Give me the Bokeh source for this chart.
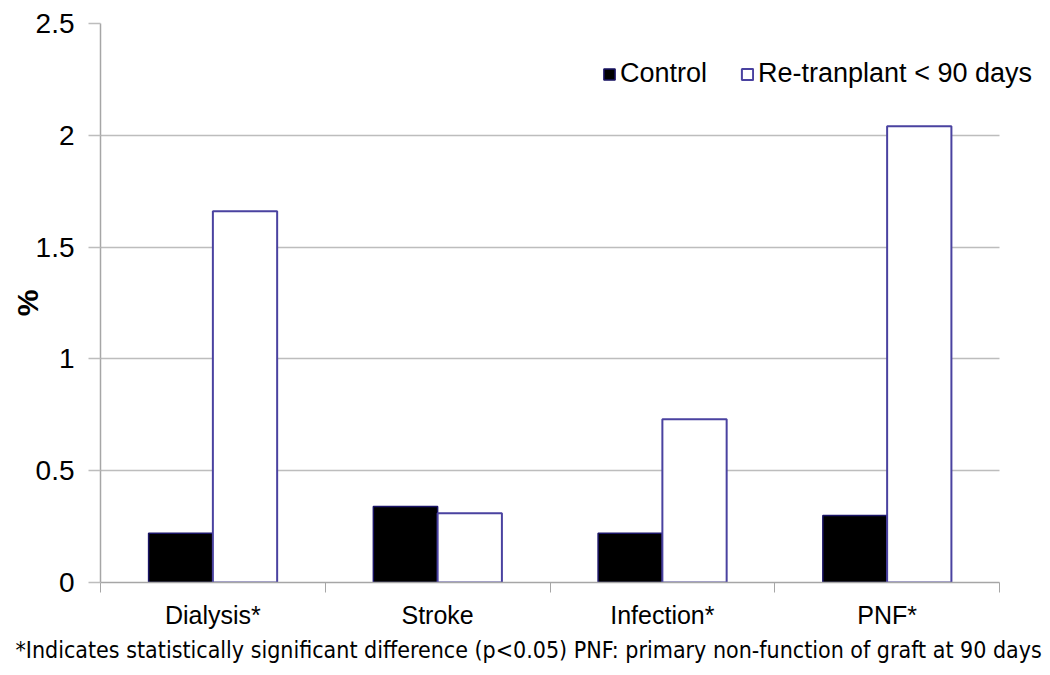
from bokeh.plotting import figure
from bokeh.models import FixedTicker, Title, ColumnDataSource, BoxAnnotation
from bokeh.embed import file_html
from bokeh.resources import INLINE
import numpy as np

categories = ["Dialysis*", "Stroke", "Infection*", "PNF*"]
control = [0.22, 0.34, 0.22, 0.30]
retransplant = [1.66, 0.31, 0.73, 2.04]
series_names = ["Control", "Re-tranplant < 90 days"]
y_ticks = [0, 0.5, 1, 1.5, 2, 2.5]
y_tick_labels = ["0", "0.5", "1", "1.5", "2", "2.5"]
y_label = "%"
footnote = "*Indicates statistically significant difference (p<0.05)  PNF: primary non-function of graft at 90 days"

FONT = "Liberation Sans"
GRID = "#bdbdbd"
EDGE = "#4a42a0"

n = len(categories)
centers = np.arange(n) + 0.5
bar_w = 0.286

# layout: the category area is 899px wide, the frame is widened so the legend can overhang
data_w = 899
frame_w = 945
x_end = n * frame_w / data_w

src = ColumnDataSource(dict(
    xc=centers - bar_w / 2,
    xr=centers + bar_w / 2,
    control=control,
    retransplant=retransplant,
))

p = figure(frame_width=frame_w, frame_height=559,
           x_range=(0, x_end), y_range=(0, 2.5),
           output_backend="svg", toolbar_location=None,
           min_border_left=100, min_border_top=23, min_border_right=0,
           min_border_bottom=4)
p.outline_line_color = None
p.background_fill_color = "white"

p.vbar(x="xc", top="control", width=bar_w, bottom=0, source=src,
       fill_color="black", line_color="#1a1466", line_width=1.5,
       legend_label=series_names[0])
p.vbar(x="xr", top="retransplant", width=bar_w, bottom=0, source=src,
       fill_color="white", line_color=EDGE, line_width=2,
       legend_label=series_names[1])

# x axis
p.xaxis.bounds = (0, n)
p.xaxis.ticker = FixedTicker(ticks=list(centers), minor_ticks=list(range(n + 1)))
p.xaxis.major_label_overrides = {float(c): cat for c, cat in zip(centers, categories)}
p.xaxis.major_tick_line_color = None
p.xaxis.major_tick_out = 0
p.xaxis.major_tick_in = 0
p.xaxis.minor_tick_line_color = "#a6a6a6"
p.xaxis.minor_tick_out = 10
p.xaxis.minor_tick_in = 0
p.xaxis.axis_line_color = "#a6a6a6"
p.xaxis.axis_line_width = 1.5
p.xaxis.major_label_text_font = FONT
p.xaxis.major_label_text_font_size = "25px"
p.xaxis.major_label_text_color = "black"
p.xaxis.major_label_standoff = 8
p.xgrid.grid_line_color = None

# y axis
p.yaxis.ticker = FixedTicker(ticks=y_ticks)
p.yaxis.major_label_overrides = {t: l for t, l in zip(y_ticks, y_tick_labels)}
p.yaxis.major_tick_out = 12
p.yaxis.major_tick_in = 0
p.yaxis.major_tick_line_color = GRID
p.yaxis.major_tick_line_width = 1.5
p.yaxis.minor_tick_line_color = None
p.yaxis.axis_line_color = "#a6a6a6"
p.yaxis.axis_line_width = 1.5
p.yaxis.major_label_text_font = FONT
p.yaxis.major_label_text_font_size = "28px"
p.yaxis.major_label_text_color = "black"
p.yaxis.major_label_standoff = 14
p.yaxis.axis_label = y_label
p.yaxis.axis_label_text_font = FONT
p.yaxis.axis_label_text_font_size = "30px"
p.yaxis.axis_label_text_font_style = "bold"
p.yaxis.axis_label_text_color = "black"
p.yaxis.axis_label_standoff = -11
p.ygrid.ticker = FixedTicker(ticks=y_ticks)
p.ygrid.grid_line_color = GRID
p.ygrid.grid_line_width = 1.5

# hide the grid beyond the last category
p.add_layout(BoxAnnotation(left=n, fill_color="white", fill_alpha=1,
                           line_alpha=0, level="underlay"))

# legend
lg = p.legend[0]
lg.orientation = "horizontal"
lg.location = (502, 493)
lg.border_line_color = None
lg.background_fill_alpha = 0
lg.padding = 0
lg.margin = 0
lg.spacing = 33
lg.glyph_width = 14
lg.glyph_height = 14
lg.label_standoff = 4
lg.label_text_font = FONT
lg.label_text_font_size = "27px"
lg.label_text_color = "black"

# footnote
p.add_layout(Title(text=footnote, align="left", offset=-85,
                   text_font="DejaVu Sans Condensed", text_font_size="23px",
                   text_font_style="normal", text_color="black", standoff=6),
             "below")

open("out.html", "w").write(file_html(p, INLINE))
